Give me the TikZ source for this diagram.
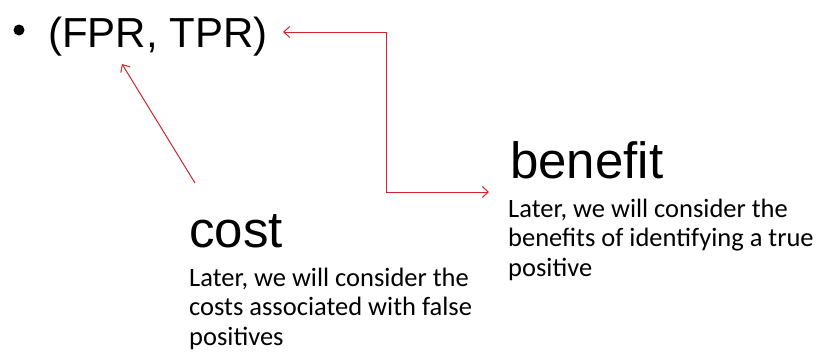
\documentclass[tikz,border=0pt]{standalone}
\usepackage{fontspec}
\usetikzlibrary{arrows.meta,positioning}
\newfontfamily\headfont{Liberation Sans}
\newfontfamily\bodyfont{Carlito}
\definecolor{linkred}{RGB}{210,35,45}
\tikzset{
  headtext/.style={anchor=base west, inner sep=0pt, font=\headfont\fontsize{51}{60}\selectfont},
  bodytext/.style={anchor=base west, inner sep=0pt, align=left, font=\bodyfont\fontsize{26.5}{29.5}\selectfont},
  link/.style={draw=linkred, line width=1pt, {Straight Barb[length=6pt,width=11pt]}-{Straight Barb[length=6pt,width=11pt]}},
  onelink/.style={draw=linkred, line width=1pt, -{Straight Barb[length=6pt,width=11pt]}}
}
\begin{document}
\begin{tikzpicture}[x=1pt, y=-1pt]
  \useasboundingbox (0,0) rectangle (818,354);
  \node[circle, fill=black, inner sep=0pt, minimum size=11pt] (dot) at (19,30) {};
  \node[anchor=base west, inner sep=0pt, font=\headfont\fontsize{42}{50}\selectfont] (pair) at (48,47) {(FPR, TPR)};
  \node[headtext] (benefit) at (510,178) {benefit};
  % last line baselines
  \node[bodytext] (benefitnote) at (508,276) {Later, we will consider the\\benefits of identifying a true\\positive};
  \node[headtext] (cost) at (189,247) {cost};
  \node[bodytext] (costnote) at (189,345) {Later, we will consider the\\costs associated with false\\positives};
  % connectors
  \coordinate (costend) at (195,183);
  \coordinate (pairlow) at (122,64);
  \coordinate (pairend) at (283,32);
  \coordinate (benefitend) at (489,192);
  \draw[onelink] (costend) -- (pairlow);
  \draw[link] (pairend) -- ++(103,0) |- (benefitend);
\end{tikzpicture}
\end{document}
